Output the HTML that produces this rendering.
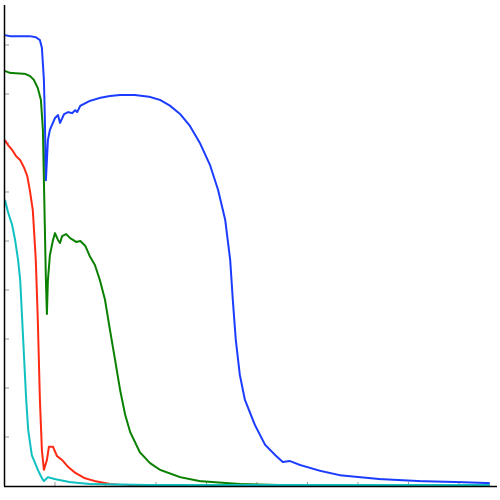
<!DOCTYPE html>
<html><head><meta charset="utf-8"><style>
html,body{margin:0;padding:0;background:#fff;width:500px;height:500px;overflow:hidden}
svg{display:block}
</style></head><body>
<svg id="chart" width="500" height="500" xmlns="http://www.w3.org/2000/svg">
<g id="ticks"></g>
<g id="series"></g>
<line x1="4.5" y1="5" x2="4.5" y2="486" stroke="#000" stroke-width="1.5"/>
<line x1="4" y1="486.5" x2="497" y2="486.5" stroke="#000" stroke-width="1.5"/>
</svg>
<script>
const xTicks=[10,20,30,40,50,60,70,80,90];
const yTicks=[10,20,30,40,50,60,70,80,90];
const blueX=[0.1,1.1,5.0,6.2,7.0,7.4,7.8,8.0,8.2,8.6,9.0,10.0,10.6,11.0,11.8,12.6,13.4,14.0,14.4,15.0,16.9,18.9,20.9,22.9,25.8,28.8,30.8,32.8,34.8,36.7,38.7,40.7,42.3,43.7,44.7,45.2,45.8,46.6,47.6,49.6,51.6,53.6,55.1,56.5,58.5,62.5,66.4,74.4,82.3,90.2,96.1];
const blueY=[92.0,91.8,91.8,91.6,91.0,89.4,82.9,74.7,62.4,70.6,72.7,75.1,75.7,74.1,75.9,76.3,76.1,76.7,76.3,77.6,78.6,79.2,79.6,79.8,79.8,79.4,78.8,77.6,75.9,73.5,70.0,65.5,60.4,54.3,46.1,38.0,29.8,22.7,17.6,12.4,8.4,6.3,4.9,5.1,4.3,3.1,2.2,1.4,1.0,0.8,0.6];
const greenX=[0.1,1.1,4.1,5.0,5.8,6.6,7.2,7.6,8.0,8.2,8.4,8.6,9.0,9.6,10.0,10.6,11.0,11.4,12.2,13.0,13.6,14.2,15.0,16.0,16.9,17.9,18.9,19.9,20.9,21.9,22.9,23.9,24.9,26.8,28.8,30.8,34.8,38.7,46.6,54.6,96.1];
const greenY=[84.7,84.3,84.1,83.7,82.9,81.2,78.8,72.7,52.2,42.0,35.1,42.0,47.1,50.2,51.6,50.2,49.6,51.0,51.4,50.6,50.2,49.8,50.0,49.0,46.9,45.1,42.0,38.0,31.8,25.7,19.6,14.5,11.0,6.9,4.7,3.3,1.8,1.0,0.4,0.2,0.1];
const redX=[0.1,0.7,1.5,2.3,3.1,3.9,4.5,5.0,5.6,6.2,6.6,7.0,7.4,7.8,8.4,8.8,9.6,10.4,11.4,12.6,14.0,15.9,17.9,20.9,24.9,38.7,96.1];
const redY=[70.6,69.6,68.6,67.3,66.5,64.9,63.3,60.4,56.3,46.1,33.9,17.6,7.3,3.3,5.3,8.0,8.0,6.1,5.3,3.9,2.7,1.6,1.0,0.4,0.2,0.1,0.1];
const cyanX=[0.1,0.7,1.5,2.1,2.7,3.1,3.5,3.9,4.3,4.7,5.4,6.6,7.4,7.8,8.6,10.0,13.0,16.9,28.8,96.1];
const cyanY=[58.4,55.9,53.3,50.2,46.1,42.0,33.9,25.7,17.6,11.4,6.3,3.3,1.6,1.0,1.8,1.4,0.8,0.4,0.2,0.2];
const sx=v=>4.5+v*5.05;
const sy=v=>486-v*4.9;
const NS='http://www.w3.org/2000/svg';
const tg=document.getElementById('ticks');
xTicks.forEach(t=>{
  const l=document.createElementNS(NS,'line');
  l.setAttribute('x1',sx(t));l.setAttribute('x2',sx(t));
  l.setAttribute('y1',486);l.setAttribute('y2',482);
  l.setAttribute('stroke','#999');l.setAttribute('stroke-width','1');
  
  
  tg.appendChild(l);
});
yTicks.forEach(t=>{
  const l=document.createElementNS(NS,'line');
  l.setAttribute('y1',sy(t));l.setAttribute('y2',sy(t));
  l.setAttribute('x1',4.5);l.setAttribute('x2',9);
  l.setAttribute('stroke','#999');l.setAttribute('stroke-width','1');
  
  
  tg.appendChild(l);
});
const sg=document.getElementById('series');
function draw(xs,ys,color,name){
  const p=document.createElementNS(NS,'polyline');
  p.setAttribute('points',xs.map((x,i)=>sx(x).toFixed(1)+','+sy(ys[i]).toFixed(1)).join(' '));
  p.setAttribute('fill','none');p.setAttribute('stroke',color);
  p.setAttribute('stroke-width','2');p.setAttribute('stroke-linejoin','round');
  
  
  sg.appendChild(p);
}
draw(blueX,blueY,'#1a3cff','series-blue-line');
draw(greenX,greenY,'#0a8000','series-green-line');
draw(redX,redY,'#ff2a14','series-red-line');
draw(cyanX,cyanY,'#10c0c0','series-cyan-line');
</script>
</body></html>
